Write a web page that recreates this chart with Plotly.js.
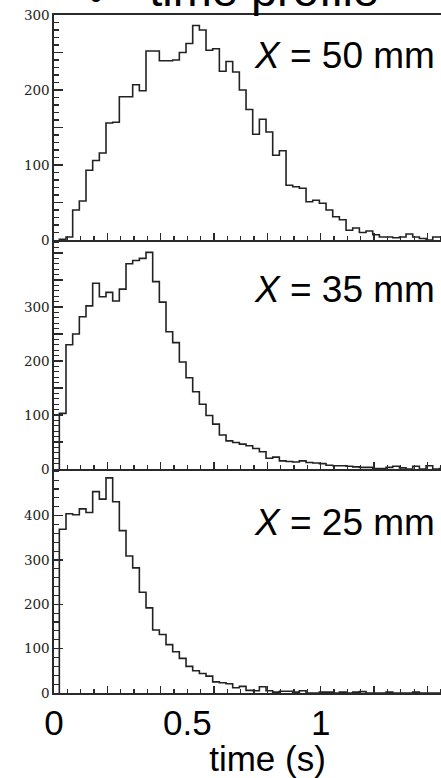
<!DOCTYPE html>
<html><head><meta charset="utf-8">
<script src="https://cdn.plot.ly/plotly-3.0.1.min.js"></script>
<style>html,body{margin:0;padding:0;overflow:hidden;background:#fff;width:441px;height:778px}</style>
</head><body><div id="chart" style="width:481px;height:778px"></div>
<script>
// histogram bins (s)
const binStart = 0.02;
const binWidth = 0.025;
// counts per bin, X = 50 mm
const counts50 = [1, 4, 40, 52, 93, 106, 116, 156, 157, 191, 191, 207, 199, 252, 252, 239, 239, 240, 250, 262,
  286, 280, 253, 255, 225, 238, 224, 200, 174, 141, 161, 144, 113, 119, 73, 71, 69, 51, 53, 49,
  40, 31, 27, 13, 16, 10, 12, 7, 4, 4, 3, 4, 8, 4, 2, 0, 4, 4];
// counts per bin, X = 35 mm
const counts35 = [103, 230, 250, 282, 302, 344, 319, 327, 311, 333, 380, 386, 390, 401, 347, 309, 254, 234, 198, 169,
  143, 120, 99, 83, 63, 52, 49, 46, 43, 38, 32, 20, 22, 15, 14, 13, 15, 12, 11, 10,
  7, 6, 6, 5, 4, 3, 3, 1, 1, 3, 5, 2, 0, 5, 0, 6, 0, 1];
// counts per bin, X = 25 mm
const counts25 = [369, 404, 402, 415, 407, 454, 437, 485, 431, 366, 309, 282, 227, 192, 142, 132, 109, 93, 78, 60,
  50, 44, 38, 25, 23, 21, 12, 15, 6, 5, 14, 5, 2, 4, 4, 2, 5, 0, 0, 2,
  2, 0, 2, 0, 2, 3, 0, 0, 0, 2, 0, 0, 0, 2, 0, 0, 0, 0];
const panelLabels = ['<i>X</i> = 50 mm', '<i>X</i> = 35 mm', '<i>X</i> = 25 mm'];
const xTickVals = [0, 0.5, 1];
const xTickText = ['0', '0.5', '1'];
const yTickVals50 = [0, 50, 100, 150, 200, 250, 300];
const yTickText50 = ['0', '', '100', '', '200', '', '300'];
const yTickVals35 = [0, 50, 100, 150, 200, 250, 300, 350, 400];
const yTickText35 = ['0', '', '100', '', '200', '', '300', '', ''];
const yTickVals25 = [0, 100, 200, 300, 400];
const yTickText25 = ['0', '100', '200', '300', '400'];
const xLabel = 'time (s)';
const titleText = '\u2714  time profile';

function steps(counts) {
  const x = [binStart], y = [0];
  counts.forEach((c, i) => { x.push(binStart + i * binWidth); y.push(c); });
  x.push(binStart + counts.length * binWidth); y.push(counts[counts.length - 1]);
  return {x, y};
}
const lineStyle = {color: '#222', width: 1.6, shape: 'hv'};
const s50 = steps(counts50), s35 = steps(counts35), s25 = steps(counts25);
const traces = [
  {x: s50.x, y: s50.y, xaxis: 'x', yaxis: 'y', mode: 'lines', line: lineStyle, hoverinfo: 'skip'},
  {x: s35.x, y: s35.y, xaxis: 'x2', yaxis: 'y2', mode: 'lines', line: lineStyle, hoverinfo: 'skip'},
  {x: s25.x, y: s25.y, xaxis: 'x3', yaxis: 'y3', mode: 'lines', line: lineStyle, hoverinfo: 'skip'},
  {x: [], y: [], xaxis: 'x4', yaxis: 'y3', mode: 'lines', hoverinfo: 'skip'}
];
const axisColor = '#2a2a2a';
const W = 481, H = 778, mL = 54, mT = 15, mB = 85;
const xRange = [0, 1.601];
function xAx(anchor, extra) {
  return Object.assign({
    anchor, range: xRange, showline: true, linecolor: axisColor, linewidth: 1.6,
    ticks: 'inside', tickmode: 'linear', tick0: 0, dtick: 0.2, ticklen: 7, tickwidth: 1.4, tickcolor: axisColor,
    minor: {ticks: 'inside', tickmode: 'linear', tick0: 0, dtick: 0.05, ticklen: 4, tickwidth: 1.1, tickcolor: axisColor, showgrid: false},
    showticklabels: false, showgrid: false, zeroline: false, fixedrange: true
  }, extra || {});
}
function yAx(domain, top, vals, text, minorStep) {
  return {
    domain, range: [0, top], showline: true, linecolor: axisColor, linewidth: 1.6,
    ticks: 'inside', tickmode: 'array', tickvals: vals, ticktext: text, ticklen: 9, tickwidth: 1.4, tickcolor: axisColor,
    minor: {ticks: 'inside', tickmode: 'linear', tick0: 0, dtick: minorStep, ticklen: 5, tickwidth: 1.1, tickcolor: axisColor, showgrid: false},
    tickfont: {family: 'DejaVu Serif, serif', size: 13.5, color: '#222'},
    showgrid: false, zeroline: false, fixedrange: true
  };
}
const plotH = H - mT - mB;
const f = (py) => (H - mB - py) / plotH;
const layout = {
  width: W, height: H,
  margin: {l: mL, r: 0, t: mT, b: mB, pad: 0},
  paper_bgcolor: '#fff', plot_bgcolor: '#fff', showlegend: false, hovermode: false,
  title: {text: titleText, font: {family: 'Liberation Sans, Arial, sans-serif', size: 47, color: '#000'},
          xref: 'container', x: 379 / W, xanchor: 'right', yref: 'container', y: 1 - 6 / H, yanchor: 'bottom'},
  xaxis: xAx('y', {mirror: true}),
  xaxis2: xAx('y2'),
  xaxis3: xAx('y3'),
  xaxis4: {overlaying: 'x3', anchor: 'y3', range: xRange, tickmode: 'array', tickvals: xTickVals, ticktext: xTickText,
           ticks: '', showline: false, showgrid: false, zeroline: false, fixedrange: true, ticklabelstandoff: 6,
           tickfont: {family: 'Liberation Sans, Arial, sans-serif', size: 35, color: '#000'},
           title: {text: xLabel, font: {family: 'Liberation Sans, Arial, sans-serif', size: 35, color: '#000'}, standoff: 0}},
  yaxis: yAx([f(240), 1], 300, yTickVals50, yTickText50, 10),
  yaxis2: yAx([f(469), f(240)], 424, yTickVals35, yTickText35, 10),
  yaxis3: yAx([0, f(469)], 505, yTickVals25, yTickText25, 20),
  annotations: [
    {text: panelLabels[0], xref: 'paper', yref: 'paper', x: (437 - mL) / (W - mL), y: f(55)},
    {text: panelLabels[1], xref: 'paper', yref: 'paper', x: (437 - mL) / (W - mL), y: f(289)},
    {text: panelLabels[2], xref: 'paper', yref: 'paper', x: (437 - mL) / (W - mL), y: f(522)}
  ].map(a => Object.assign(a, {xanchor: 'right', yanchor: 'middle', showarrow: false,
    font: {family: 'Liberation Sans, Arial, sans-serif', size: 37, color: '#000'}}))
};
Plotly.newPlot('chart', traces, layout, {staticPlot: true, displayModeBar: false});
</script></body></html>
